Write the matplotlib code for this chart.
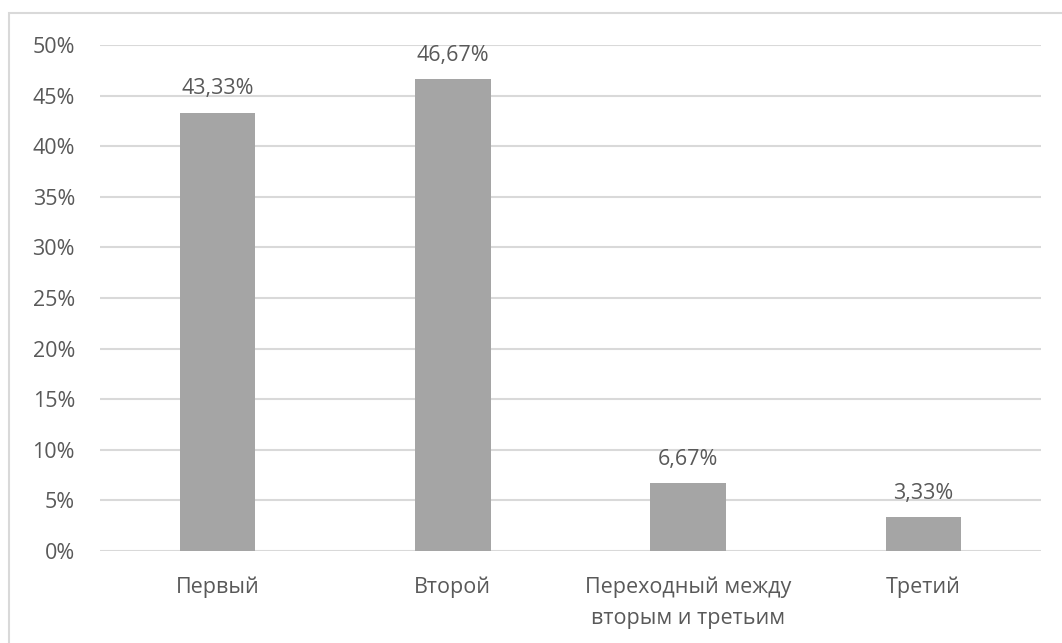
import matplotlib.pyplot as plt
from matplotlib.patches import Rectangle

categories = ['Первый', 'Второй', 'Переходный между\nвторым и третьим', 'Третий']
values = [43.33, 46.67, 6.67, 3.33]
labels = ['43,33%', '46,67%', '6,67%', '3,33%']
yticks = [0, 5, 10, 15, 20, 25, 30, 35, 40, 45, 50]

plt.rcParams['font.family'] = ['Open Sans', 'DejaVu Sans']
txt = '#595959'
fs = 15.5

fig = plt.figure(figsize=(10.62, 6.43), dpi=100)
ax = fig.add_axes([100 / 1062, 1 - 551 / 643, (1041 - 100) / 1062, (551 - 45) / 643])

# outer frame of the chart area
fig.patches.append(Rectangle((9 / 1062, -0.1), 1.2, 1 - 13 / 643 + 0.1,
                             transform=fig.transFigure, fill=False,
                             edgecolor='#D9D9D9', linewidth=1.5))

x = range(len(categories))
bars = ax.bar(x, values, width=0.32, color='#A5A5A5', zorder=3)
for b, lab in zip(bars, labels):
    ax.annotate(lab, (b.get_x() + b.get_width() / 2, b.get_height()),
                xytext=(0, 9.5), textcoords='offset points',
                ha='center', va='bottom', fontsize=fs, color=txt)

ax.set_xlim(-0.5, len(categories) - 0.5)
ax.set_ylim(0, 50)
ax.set_yticks(yticks)
ax.set_yticklabels([f'{t}%' for t in yticks])
ax.set_xticks(list(x))
ax.set_xticklabels(categories, linespacing=1.65)
ax.tick_params(axis='y', length=0, pad=18, labelsize=fs, labelcolor=txt)
ax.tick_params(axis='x', length=0, pad=18, labelsize=fs, labelcolor=txt)
ax.grid(axis='y', color='#D9D9D9', linewidth=1.5, zorder=0)
for s in ax.spines.values():
    s.set_visible(False)

fig.savefig('out.png', dpi=100)
